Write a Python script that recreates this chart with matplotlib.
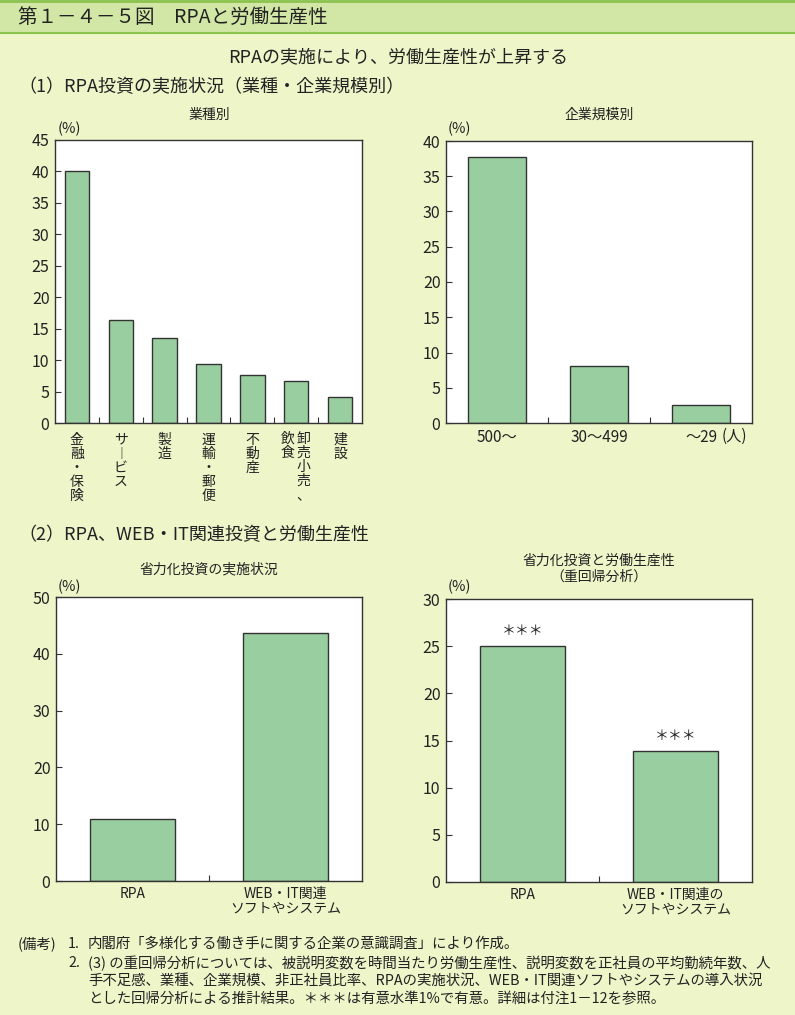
import numpy as np
import matplotlib.pyplot as plt
from matplotlib.patches import Rectangle
from matplotlib.lines import Line2D

plt.rcParams['font.family'] = ['Noto Sans CJK JP', 'DejaVu Sans']

# データ
ind_labels = ["金融・保険", "サービス", "製造", "運輸・郵便", "不動産", "卸売小売、飲食", "建設"]
ind_vals = [40.0, 16.4, 13.5, 9.4, 7.7, 6.6, 4.1]

size_labels = ["500～", "30～499", "～29"]
size_vals = [37.7, 8.1, 2.6]

inv_labels = ["RPA", "WEB・IT関連\nソフトやシステム"]
inv_vals = [10.9, 43.7]

reg_labels = ["RPA", "WEB・IT関連の\nソフトやシステム"]
reg_vals = [25.0, 13.9]
reg_sig = ["＊＊＊", "＊＊＊"]

note_nums = ["1.", "2.", "", ""]
notes = [
    "内閣府「多様化する働き手に関する企業の意識調査」により作成。",
    "(3) の重回帰分析については、被説明変数を時間当たり労働生産性、説明変数を正社員の平均勤続年数、人",
    "手不足感、業種、企業規模、非正社員比率、RPAの実施状況、WEB・IT関連ソフトやシステムの導入状況",
    "とした回帰分析による推計結果。＊＊＊は有意水準1%で有意。詳細は付注1－12を参照。",
]

BG = "#eef5c9"
BAND = "#d2e7a6"
LINE = "#8cc34f"
BAR = "#99cfa0"
EDGE = "#333333"
TXT = "#222222"

W, H = 795, 1015
fig = plt.figure(figsize=(W / 100, H / 100), dpi=100)
fig.patch.set_facecolor(BG)


def fx(px):
    return px / W


def fy(py):
    return 1 - py / H


def box(l, t, r, b):
    return [l / W, 1 - b / H, (r - l) / W, (b - t) / H]


# タイトル帯
fig.add_artist(Rectangle((0, fy(33)), 1, 33 / H, transform=fig.transFigure,
                         facecolor=BAND, edgecolor="none"))
fig.add_artist(Line2D([0, 1], [fy(1), fy(1)], transform=fig.transFigure, color=LINE, lw=2))
fig.add_artist(Line2D([0, 1], [fy(33), fy(33)], transform=fig.transFigure, color=LINE, lw=1.5))
fig.text(fx(18), fy(17), "第１－４－５図　RPAと労働生産性", fontsize=14, color=TXT, va="center")

fig.text(fx(398), fy(57), "RPAの実施により、労働生産性が上昇する", fontsize=13, color=TXT,
         ha="center", va="center")
fig.text(fx(18), fy(87), "（1）RPA投資の実施状況（業種・企業規模別）", fontsize=13, color=TXT, va="center")
fig.text(fx(18), fy(535), "（2）RPA、WEB・IT関連投資と労働生産性", fontsize=13, color=TXT, va="center")


def bar_panel(rect, vals, ymax, ystep):
    ax = fig.add_axes(rect)
    ax.set_facecolor("white")
    x = np.arange(len(vals))
    ax.bar(x, vals, width=0.56, color=BAR, edgecolor=EDGE, linewidth=1, zorder=2)
    ax.set_xlim(-0.5, len(vals) - 0.5)
    ax.set_ylim(0, ymax)
    ax.set_yticks(np.arange(0, ymax + 1, ystep))
    ax.tick_params(axis="y", direction="in", length=4, width=0.8, labelsize=11.5,
                   pad=4, colors=EDGE, labelcolor=TXT)
    ax.set_xticks(x)
    ax.tick_params(axis="x", which="major", length=0, labelcolor=TXT)
    ax.set_xticks(x[:-1] + 0.5, minor=True)
    ax.tick_params(axis="x", which="minor", direction="in", length=4, width=0.8, colors=EDGE)
    for s in ax.spines.values():
        s.set_color(EDGE)
        s.set_linewidth(1)
    return ax


# 業種別
ax1 = bar_panel(box(55, 140, 362, 423), ind_vals, 45, 5)
vert = []
for lab in ind_labels:
    if "、" in lab:
        vert.append("")
    else:
        vert.append("\n".join(lab.replace("ー", "︱")))
ax1.set_xticklabels(vert, fontsize=10, linespacing=1.0, va="top")
ax1.tick_params(axis="x", which="major", pad=7)
i6 = ind_labels.index("卸売小売、飲食")
ax1.text(i6 + 0.16, -9 / 283, "\n".join("卸売小売、"), transform=ax1.get_xaxis_transform(),
         fontsize=10, linespacing=1.0, ha="center", va="top", color=TXT)
ax1.text(i6 - 0.2, -9 / 283, "\n".join("飲食"), transform=ax1.get_xaxis_transform(),
         fontsize=10, linespacing=1.0, ha="center", va="top", color=TXT)
fig.text(fx(209), fy(115), "業種別", fontsize=10, color=TXT, ha="center", va="center")
fig.text(fx(58), fy(129), "(%)", fontsize=10.5, color=TXT, ha="left", va="center")

# 企業規模別
ax2 = bar_panel(box(446, 141, 752, 423), size_vals, 40, 5)
ax2.set_xticklabels(size_labels, fontsize=11)
ax2.tick_params(axis="x", which="major", pad=4)
fig.text(fx(722), fy(428), "(人)", fontsize=11, ha="left", va="top", color=TXT)
fig.text(fx(599), fy(115), "企業規模別", fontsize=10, color=TXT, ha="center", va="center")
fig.text(fx(448), fy(129), "(%)", fontsize=10.5, color=TXT, ha="left", va="center")

# 省力化投資の実施状況
ax3 = bar_panel(box(56, 597, 362, 881), inv_vals, 50, 10)
ax3.set_xticklabels(inv_labels, fontsize=10, linespacing=1.1, va="top")
ax3.tick_params(axis="x", which="major", pad=4)
fig.text(fx(209), fy(569), "省力化投資の実施状況", fontsize=10, color=TXT, ha="center", va="center")
fig.text(fx(58), fy(587), "(%)", fontsize=10.5, color=TXT, ha="left", va="center")

# 省力化投資と労働生産性（重回帰分析）
ax4 = bar_panel(box(446, 599, 752, 882), reg_vals, 30, 5)
ax4.set_xticklabels(reg_labels, fontsize=10, linespacing=1.1, va="top")
ax4.tick_params(axis="x", which="major", pad=4)
for i, (v, s) in enumerate(zip(reg_vals, reg_sig)):
    ax4.annotate(s, (i, v), xytext=(0, 6), textcoords="offset points",
                 ha="center", va="bottom", fontsize=10, color=TXT)
fig.text(fx(599), fy(561), "省力化投資と労働生産性", fontsize=10, color=TXT, ha="center", va="center")
fig.text(fx(599), fy(577), "（重回帰分析）", fontsize=10, color=TXT, ha="center", va="center")
fig.text(fx(448), fy(587), "(%)", fontsize=10.5, color=TXT, ha="left", va="center")

# 備考
note_y = [944, 963, 981, 999]
fig.text(fx(18), fy(note_y[0]), "(備考)", fontsize=10.4, color=TXT, ha="left", va="center")
for num, t, y0 in zip(note_nums, notes, note_y):
    if num:
        fig.text(fx(68), fy(y0), num, fontsize=10.4, color=TXT, ha="left", va="center")
    fig.text(fx(88), fy(y0), t, fontsize=10.4, color=TXT, ha="left", va="center")

fig.savefig("out.png", dpi=100, facecolor=BG)
